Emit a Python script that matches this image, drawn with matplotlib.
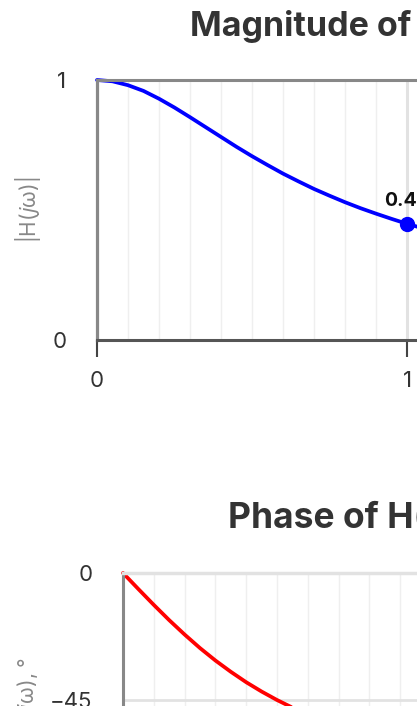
import numpy as np
import matplotlib
matplotlib.use('Agg')
import matplotlib.pyplot as plt
from matplotlib.ticker import MultipleLocator

plt.rcParams['font.family'] = ['Inter', 'DejaVu Sans']

# values
omega = [0.0, 0.05, 0.1, 0.15, 0.2, 0.25, 0.3, 0.35, 0.4, 0.45, 0.5,
         0.55, 0.6, 0.65, 0.7, 0.75, 0.8, 0.85, 0.9, 0.95, 1.0, 1.05, 1.1]
magnitude = [1.0, 0.995, 0.98, 0.958, 0.928, 0.894, 0.857, 0.819, 0.781, 0.743, 0.707,
             0.673, 0.64, 0.61, 0.581, 0.555, 0.53, 0.507, 0.486, 0.466, 0.447, 0.43, 0.414]
phase = [0.0, -5.7, -11.3, -16.7, -21.8, -26.6, -31.0, -35.0, -38.7, -42.0, -45.0,
         -47.7, -50.2, -52.4, -54.5, -56.3, -58.0, -59.5, -60.9, -62.2, -63.4, -64.5, -65.6]
marked_omega = 1.0
marked_value = 0.45

W, H = 417, 706
fig = plt.figure(figsize=(W / 100, H / 100), dpi=100)


def px_axes(left, top, width, height):
    return fig.add_axes([left / W, 1 - (top + height) / H, width / W, height / H])


def style_axes(ax):
    ax.set_xlim(0, 2)
    ax.xaxis.set_minor_locator(MultipleLocator(0.1))
    ax.xaxis.set_major_locator(MultipleLocator(1))
    ax.grid(axis='x', which='minor', color='#efefef', lw=1)
    ax.grid(axis='x', which='major', color='#e2e2e2', lw=2.2)
    ax.tick_params(axis='x', which='minor', length=0)
    ax.tick_params(axis='x', which='major', length=12, width=1.5, color='#444',
                   labelsize=16, labelcolor='#333', pad=10)
    ax.tick_params(axis='y', length=0, labelsize=16, labelcolor='#333', pad=22)
    ax.spines['right'].set_visible(False)
    ax.set_axisbelow(True)


# magnitude
ax1 = px_axes(97, 80, 620, 260)
style_axes(ax1)
ax1.set_ylim(0, 1)
ax1.set_yticks([0, 1])
ax1.set_xticks([0, 1, 2])
ax1.spines['left'].set_color('#888')
ax1.spines['left'].set_linewidth(2.3)
ax1.spines['top'].set_color('#888')
ax1.spines['top'].set_linewidth(2.2)
ax1.spines['bottom'].set_color('#555')
ax1.spines['bottom'].set_linewidth(2.2)
ax1.plot(omega, magnitude, color='blue', lw=2.7, solid_capstyle='round', clip_on=False)
ax1.plot([marked_omega], [magnitude[omega.index(marked_omega)]], 'o', color='blue',
         ms=10, clip_on=False)
ax1.annotate(f'{marked_value:.2f}', (marked_omega, magnitude[omega.index(marked_omega)]),
             xytext=(0, 10), textcoords='offset points', ha='center', va='bottom',
             fontsize=14, fontweight='bold', color='#111')
ax1.set_ylabel('|H($j$ω)|', fontsize=15, color='#888', labelpad=7)
fig.text(190 / W, 1 - 36 / H, 'Magnitude of H(jω)', fontsize=24.5, fontweight='bold',
         color='#333', ha='left', va='baseline')

# phase
ax2 = px_axes(123, 573, 616, 254)
style_axes(ax2)
ax2.set_ylim(-90, 0)
ax2.set_yticks([-90, -45, 0])
ax2.set_xticks([0, 1, 2])
ax2.grid(axis='y', color='#e2e2e2', lw=2)
ax2.spines['left'].set_color('#888')
ax2.spines['left'].set_linewidth(2.2)
ax2.spines['top'].set_color('#e2e2e2')
ax2.spines['top'].set_linewidth(2.5)
ax2.spines['bottom'].set_color('#555')
ax2.plot(omega, phase, color='red', lw=2.7, solid_capstyle='round', clip_on=False)
ax2.set_ylabel('∠H($j$ω), °', fontsize=15, color='#888', labelpad=7)
fig.text(228 / W, 1 - 528 / H, 'Phase of H(jω)', fontsize=25.5, fontweight='bold',
         color='#333', ha='left', va='baseline')

fig.savefig('out.png', dpi=100)
